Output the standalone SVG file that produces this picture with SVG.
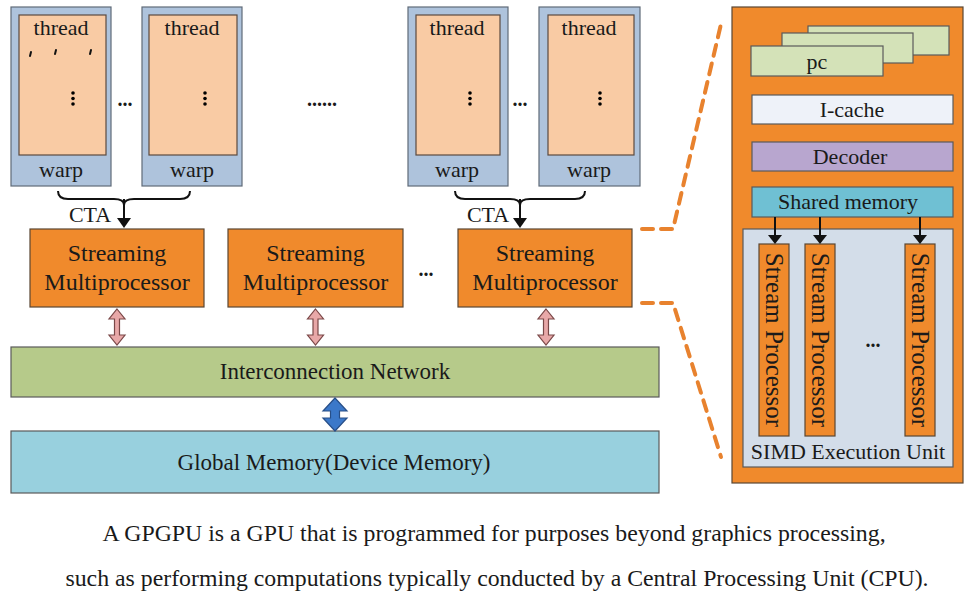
<svg xmlns="http://www.w3.org/2000/svg" width="972" height="601" viewBox="0 0 972 601">
<style>
text{font-family:"Liberation Serif","Times New Roman",serif;fill:#1a1a1a}
.warp{fill:#aec3dc;stroke:#5f6b78;stroke-width:1.2}
.thr{fill:#f9cba4;stroke:#5a4a40;stroke-width:1.2}
.sm{fill:#f08a2c;stroke:#5a4632;stroke-width:1.2}
.t22{font-size:22px;text-anchor:middle}
.t23{font-size:23px;text-anchor:middle}
.t24{font-size:24px;text-anchor:middle}
.sp{font-size:25px;text-anchor:middle}
.dots{font-size:20px;font-weight:bold;text-anchor:middle}
.pink{fill:#e8a8a8;stroke:#7a4848;stroke-width:1.2}
.brace{fill:none;stroke:#111;stroke-width:2}
.dash{fill:none;stroke:#e8822e;stroke-width:4;stroke-dasharray:11 8;stroke-linecap:round;stroke-linejoin:round}
.box{stroke:#5a5a5a;stroke-width:1.2}
</style>
<rect width="972" height="601" fill="#ffffff"/>

<g id="warp1">
<rect class="warp" x="11" y="7" width="100" height="179"/>
<rect class="thr" x="19" y="15" width="87" height="140"/>
<text class="t22" x="61" y="35">thread</text>
<path d="M31,52 L30,56 M56,50 L55,54 M91,50 L90,54" stroke="#111" stroke-width="2" stroke-linecap="round"/>
<circle cx="73" cy="93" r="1.8"/><circle cx="73" cy="98.5" r="1.8"/><circle cx="73" cy="104" r="1.8"/>
<text class="t22" x="61" y="177">warp</text>
</g>
<g id="warp2">
<rect class="warp" x="142" y="7" width="100" height="179"/>
<rect class="thr" x="149" y="15" width="88" height="140"/>
<text class="t22" x="192" y="35">thread</text>
<circle cx="205" cy="93" r="1.8"/><circle cx="205" cy="98.5" r="1.8"/><circle cx="205" cy="104" r="1.8"/>
<text class="t22" x="192" y="177">warp</text>
</g>
<g id="warp3">
<rect class="warp" x="408" y="7" width="100" height="179"/>
<rect class="thr" x="416" y="15" width="84" height="140"/>
<text class="t22" x="457" y="35">thread</text>
<circle cx="470" cy="93" r="1.8"/><circle cx="470" cy="98.5" r="1.8"/><circle cx="470" cy="104" r="1.8"/>
<text class="t22" x="457" y="177">warp</text>
</g>
<g id="warp4">
<rect class="warp" x="539" y="7" width="101" height="179"/>
<rect class="thr" x="548" y="15" width="86" height="140"/>
<text class="t22" x="589" y="35">thread</text>
<circle cx="600" cy="93" r="1.8"/><circle cx="600" cy="98.5" r="1.8"/><circle cx="600" cy="104" r="1.8"/>
<text class="t22" x="589" y="177">warp</text>
</g>
<text class="dots" x="125" y="106">...</text>
<text class="dots" x="520" y="106">...</text>
<text class="dots" x="322" y="106">......</text>

<g id="sm1">
<rect class="sm" x="30" y="229" width="174" height="78"/>
<text class="t24" x="117" y="261">Streaming</text>
<text class="t24" x="117" y="290">Multiprocessor</text>
</g>
<g id="sm2">
<rect class="sm" x="228" y="229" width="175" height="78"/>
<text class="t24" x="315.5" y="261">Streaming</text>
<text class="t24" x="315.5" y="290">Multiprocessor</text>
</g>
<g id="sm3">
<rect class="sm" x="458" y="229" width="174" height="78"/>
<text class="t24" x="545" y="261">Streaming</text>
<text class="t24" x="545" y="290">Multiprocessor</text>
</g>
<text class="dots" x="426" y="276">...</text>

<g id="network">
<rect class="box" x="11" y="347" width="648" height="50" fill="#b6ca8a"/>
<text class="t23" x="335" y="379">Interconnection Network</text>
</g>
<g id="globalmem">
<rect class="box" x="11" y="431" width="648" height="62" fill="#98d0de"/>
<text class="t23" x="334" y="470">Global Memory(Device Memory)</text>
</g>

<g id="smdetail">
<rect x="732" y="7" width="231" height="476" fill="#f08a2c" stroke="#5a4632" stroke-width="1.2"/>
<rect class="box" x="808" y="26" width="141" height="29" fill="#d4e2b8"/>
<rect class="box" x="782" y="33" width="131" height="30" fill="#d4e2b8"/>
<text class="t22" x="847" y="58">pc</text>
<rect class="box" x="751" y="46" width="132" height="30" fill="#d4e2b8"/>
<text class="t22" x="817" y="69">pc</text>
<rect class="box" x="752" y="95" width="201" height="29" fill="#eef2f9"/>
<text class="t22" x="852" y="117">I-cache</text>
<rect class="box" x="752" y="142" width="201" height="29" fill="#b8a6cf"/>
<text class="t22" x="850" y="164">Decoder</text>
<rect class="box" x="752" y="187" width="201" height="30" fill="#6fc0d3"/>
<text class="t22" x="848" y="209">Shared memory</text>
<rect class="box" x="743" y="229" width="210" height="238" fill="#d3dde9"/>
<rect class="sm" x="759" y="244" width="30" height="192"/>
<rect class="sm" x="805" y="244" width="30" height="192"/>
<rect class="sm" x="905" y="244" width="30" height="192"/>
<text class="sp" transform="translate(774,340) rotate(90)" y="8">Stream Processor</text>
<text class="sp" transform="translate(820,340) rotate(90)" y="8">Stream Processor</text>
<text class="sp" transform="translate(920,340) rotate(90)" y="8">Stream Processor</text>
<text class="dots" x="873" y="347">...</text>
<text class="t22" x="848" y="459">SIMD Execution Unit</text>
</g>

<g id="connectors">
<path class="brace" d="M58,191 Q58,199 68,199 L114,199 Q124,199 124,205 Q124,199 134,199 L180,199 Q190,199 190,191"/>
<line x1="124" y1="199" x2="124" y2="219" stroke="#111" stroke-width="2"/>
<polygon points="117,218 131,218 124,228" fill="#111"/>
<text class="t22" x="90" y="222">CTA</text>
<path class="brace" d="M455,191 Q455,199 465,199 L510,199 Q520,199 520,205 Q520,199 530,199 L575,199 Q585,199 585,191"/>
<line x1="520" y1="199" x2="520" y2="219" stroke="#111" stroke-width="2"/>
<polygon points="513,218 527,218 520,228" fill="#111"/>
<text class="t22" x="488" y="222">CTA</text>

<polygon class="pink" points="117,309 125,319 119.5,319 119.5,335 125,335 117,345 109,335 114.5,335 114.5,319 109,319"/>
<polygon class="pink" points="315.5,309 323.5,319 318,319 318,335 323.5,335 315.5,345 307.5,335 313,335 313,319 307.5,319"/>
<polygon class="pink" points="546,309 554,319 548.5,319 548.5,335 554,335 546,345 538,335 543.5,335 543.5,319 538,319"/>

<polygon points="335,398 347,411 339.5,411 339.5,418 347,418 335,431 323,418 330.5,418 330.5,411 323,411" fill="#3b78c9" stroke="#284f88" stroke-width="1.2"/>

<path class="dash" d="M642,229 H673 L721,24"/>
<path class="dash" d="M642,303 H673 L721,457"/>

<line x1="775" y1="217" x2="775" y2="236" stroke="#111" stroke-width="2"/>
<polygon points="768,235 782,235 775,244" fill="#111"/>
<line x1="820" y1="217" x2="820" y2="236" stroke="#111" stroke-width="2"/>
<polygon points="813,235 827,235 820,244" fill="#111"/>
<line x1="920" y1="217" x2="920" y2="236" stroke="#111" stroke-width="2"/>
<polygon points="913,235 927,235 920,244" fill="#111"/>
</g>

<g id="caption">
<text class="t23" x="494" y="541" style="font-size:23.8px">A GPGPU is a GPU that is programmed for purposes beyond graphics processing,</text>
<text class="t23" x="497" y="586" style="font-size:23.8px">such as performing computations typically conducted by a Central Processing Unit (CPU).</text>
</g>
</svg>
